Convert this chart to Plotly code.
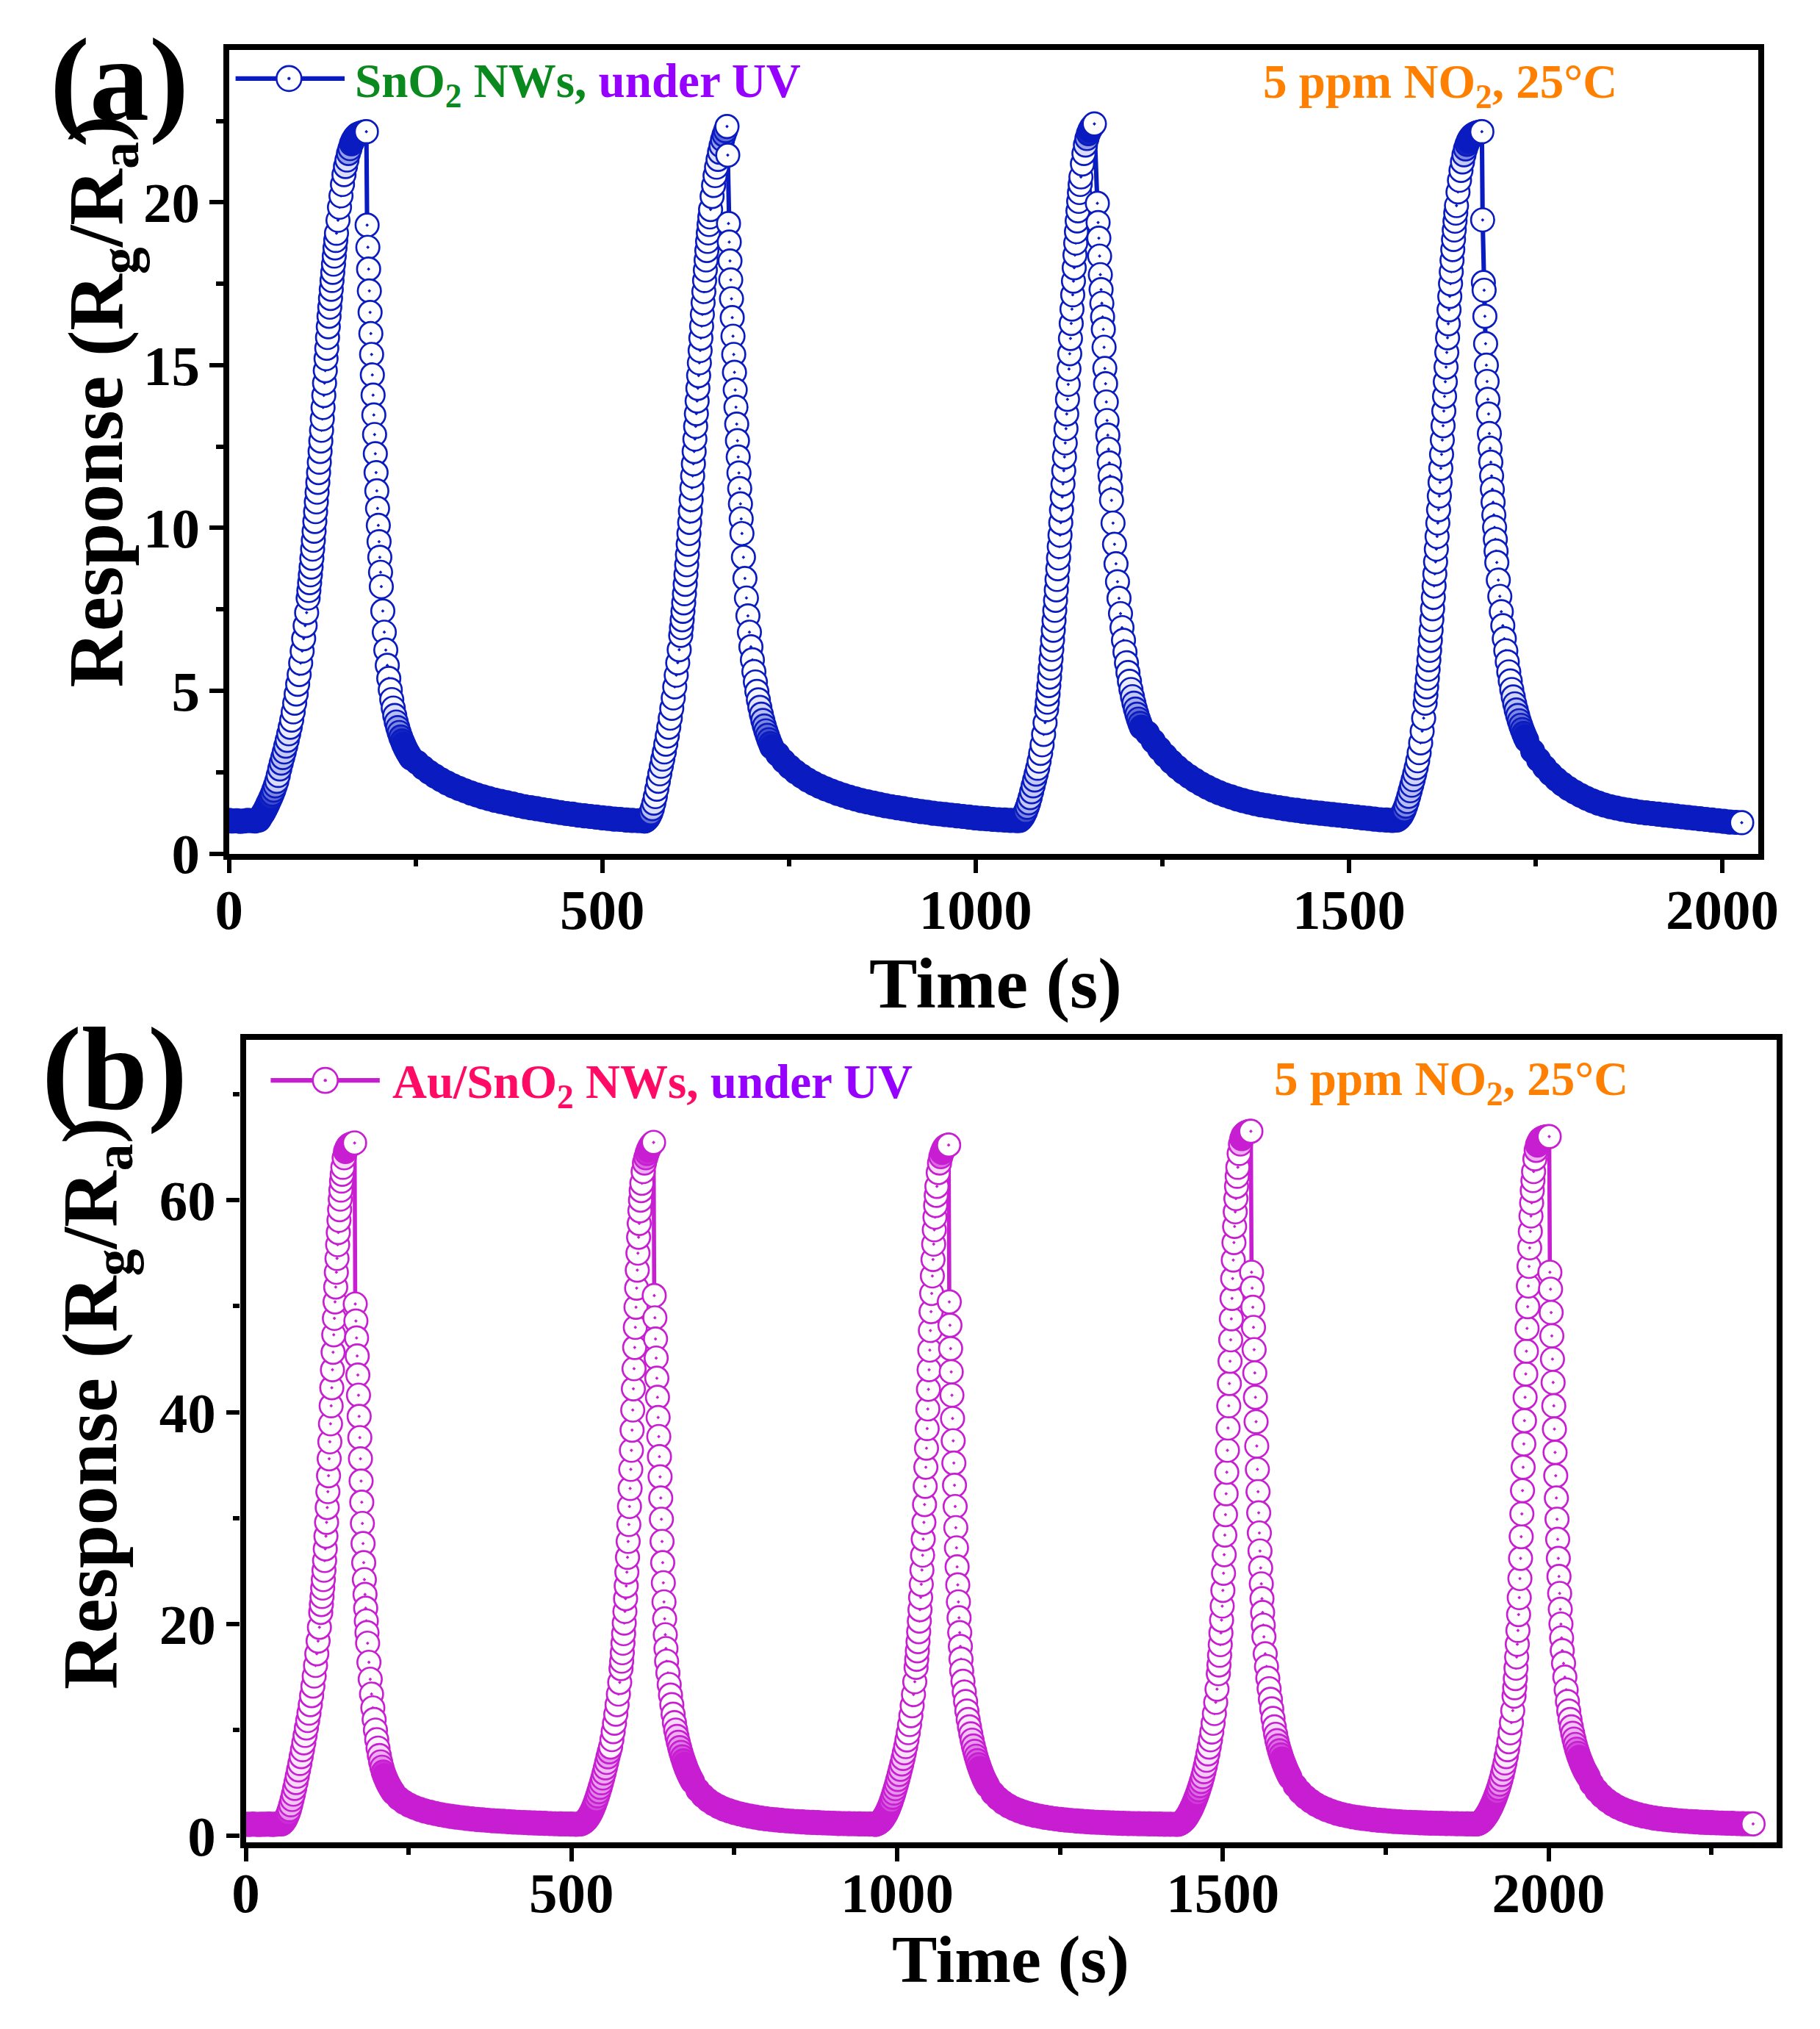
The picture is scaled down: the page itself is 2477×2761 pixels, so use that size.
import math
import plotly.graph_objects as go

FONT = "Liberation Serif"
BLUE = "#0A1CC0"
MAG = "#C81ED2"
GREEN = "#0A8A1E"
PURPLE = "#9600FF"
PINK = "#FF0A64"
ORANGE = "#FF8000"

# ---------------- Panel (a): SnO2 NWs, response vs time (s) ----------------
# each list = response values sampled from `start` every `step` seconds
A_BASE = [1.02, 1.00, 1.01, 0.99, 1.00, 1.02, 1.01, 1.00, 1.03]
A1_FOOT = [1.10, 1.18, 1.25, 1.33, 1.42, 1.52, 1.62, 1.72, 1.83, 1.95, 2.08, 2.22, 2.40, 2.60, 2.78, 2.95, 3.12,
           3.30, 3.48, 3.68, 3.88, 4.10, 4.35, 4.62, 4.90, 5.20, 5.50, 5.85, 6.22, 6.60, 7.00, 7.40, 7.85]
A1_STEEP = [8.08, 8.32, 8.56, 8.80, 9.07, 9.35, 9.62, 9.90, 10.20, 10.50, 10.80, 11.10, 11.40, 11.70, 12.02, 12.35,
            12.67, 13.00, 13.35, 13.70, 14.07, 14.45, 14.83, 15.20, 15.52, 15.85, 16.18, 16.50, 16.78, 17.05, 17.33,
            17.60, 17.85, 18.10, 18.35, 18.60, 18.83, 19.05]
A1_CAP = [19.45, 19.85, 20.20, 20.55, 20.85, 21.10, 21.30, 21.50, 21.65, 21.80, 21.90, 21.98, 22.04, 22.08, 22.10,
          22.12, 22.13, 22.15, 22.16, 22.17]
A1_DEC1 = [19.30, 18.62, 17.95, 17.28, 16.62, 15.97, 15.33, 14.70, 14.08, 13.47, 12.87, 12.28, 11.70, 11.14, 10.60,
           10.08, 9.58, 9.10, 8.64, 8.20]
A1_DEC2 = [7.45, 6.80, 6.25, 5.78, 5.38, 5.03, 4.73, 4.47, 4.24, 4.04, 3.87, 3.72, 3.58, 3.46, 3.35, 3.25, 3.16,
           3.08, 3.00, 2.93]
A1_TAIL = [2.80, 2.64, 2.50, 2.38, 2.27, 2.17, 2.08, 2.00, 1.93, 1.86, 1.80, 1.74, 1.69, 1.64, 1.60, 1.56, 1.52,
           1.48, 1.44, 1.41, 1.38, 1.35, 1.32, 1.29, 1.26, 1.23, 1.21, 1.18, 1.16, 1.14, 1.12, 1.10, 1.08, 1.06,
           1.05, 1.03, 1.02, 1.01, 1.00]
A2_FOOT = [1.00, 1.03, 1.08, 1.15, 1.25, 1.38, 1.55, 1.75, 1.98, 2.22, 2.45, 2.68, 2.90, 3.12, 3.36, 3.61, 3.88,
           4.16, 4.46, 4.78, 5.12, 5.48, 5.86, 6.26, 6.70]
A2_STEEP = [6.94, 7.18, 7.44, 7.70, 7.98, 8.27, 8.57, 8.87, 9.18, 9.50, 9.83, 10.17, 10.52, 10.87, 11.23, 11.60,
            11.97, 12.35, 12.73, 13.12, 13.51, 13.90, 14.29, 14.68, 15.07, 15.45, 15.83, 16.20, 16.56, 16.92, 17.26,
            17.60, 17.92, 18.23, 18.52, 18.80, 19.06, 19.32, 19.55, 19.78]
A2_CAP = [20.18, 20.52, 20.82, 21.08, 21.32, 21.54, 21.74, 21.92, 22.07, 22.20, 22.33]
A2_DEC1 = [21.45, 19.35, 18.78, 18.20, 17.62, 17.04, 16.46, 15.89, 15.33, 14.78, 14.24, 13.71, 13.19, 12.68, 12.18,
           11.69, 11.21, 10.74, 10.28, 9.83]
A2_DEC2 = [9.10, 8.45, 7.85, 7.30, 6.80, 6.35, 5.95, 5.59, 5.27, 4.98, 4.72, 4.49, 4.28, 4.09, 3.92, 3.77, 3.63,
           3.50, 3.38, 3.27]
A2_TAIL = [3.05, 2.84, 2.66, 2.51, 2.38, 2.26, 2.16, 2.07, 1.99, 1.92, 1.85, 1.79, 1.73, 1.68, 1.63, 1.59, 1.55,
           1.51, 1.47, 1.44, 1.41, 1.38, 1.35, 1.32, 1.29, 1.27, 1.24, 1.22, 1.20, 1.18, 1.16, 1.14, 1.12, 1.10,
           1.08, 1.07, 1.05, 1.04, 1.03, 1.02, 1.01]
A3_FOOT = [1.02, 1.06, 1.12, 1.20, 1.30, 1.42, 1.56, 1.72, 1.90, 2.08, 2.26, 2.44, 2.62, 2.84, 3.08, 3.34, 3.66,
           4.02, 4.42]
A3_STEEP = [4.65, 4.90, 5.16, 5.42, 5.70, 5.98, 6.27, 6.56, 6.86, 7.16, 7.47, 7.78, 8.10, 8.42, 8.75, 9.08, 9.43,
            9.78, 10.16, 10.55, 10.95, 11.35, 11.76, 12.18, 12.61, 13.05, 13.50, 13.95, 14.41, 14.88, 15.35, 15.82,
            16.28, 16.72, 17.16, 17.58, 17.99, 18.38, 18.75, 19.10, 19.43, 19.74, 20.03, 20.30, 20.55]
A3_CAP = [20.78, 21.18, 21.50, 21.76, 21.96, 22.11, 22.22, 22.30, 22.36, 22.41]
A3_DEC1 = [19.97, 19.38, 18.90, 18.35, 17.78, 17.32, 16.90, 16.48, 16.10, 15.55, 14.90, 14.43, 13.87, 13.30, 12.85,
           12.42, 12.00, 11.60, 11.22, 10.85]
A3_DEC2 = [10.15, 9.50, 8.90, 8.35, 7.84, 7.37, 6.94, 6.55, 6.19, 5.86, 5.56, 5.29, 5.04, 4.82, 4.62, 4.44, 4.28,
           4.13, 4.00, 3.88]
A3_TAIL = [3.70, 3.45, 3.22, 3.01, 2.82, 2.65, 2.50, 2.37, 2.25, 2.14, 2.04, 1.95, 1.87, 1.80, 1.74, 1.68, 1.63,
           1.58, 1.54, 1.50, 1.47, 1.44, 1.41, 1.38, 1.35, 1.33, 1.30, 1.28, 1.26, 1.24, 1.22, 1.20, 1.18, 1.16,
           1.14, 1.12, 1.10, 1.08, 1.06, 1.04, 1.03, 1.02]
A4_FOOT = [1.03, 1.06, 1.10, 1.16, 1.24, 1.34, 1.46, 1.60, 1.76, 1.93, 2.10, 2.27, 2.45, 2.64, 2.85, 3.10, 3.40,
           3.76, 4.16, 4.62]
A4_STEEP = [4.87, 5.12, 5.39, 5.66, 5.95, 6.24, 6.55, 6.86, 7.19, 7.52, 7.87, 8.22, 8.59, 8.96, 9.35, 9.74, 10.15,
            10.56, 10.98, 11.40, 11.83, 12.26, 12.70, 13.14, 13.59, 14.04, 14.49, 14.94, 15.39, 15.84, 16.27, 16.70,
            17.11, 17.50, 17.87, 18.22, 18.55, 18.86, 19.15, 19.42, 19.67, 19.90]
A4_CAP = [20.32, 20.68, 20.98, 21.24, 21.46, 21.64, 21.78, 21.89, 21.97, 22.03, 22.07, 22.10, 22.12, 22.14, 22.15,
          22.16, 22.17]
A4_DEC1 = [19.46, 17.54, 17.30, 16.50, 15.66, 15.00, 14.50, 13.95, 13.50, 12.90, 12.45, 12.02, 11.60, 11.19, 10.79,
           10.40, 10.02, 9.65, 9.29, 8.94]
A4_DEC2 = [8.40, 7.90, 7.43, 7.00, 6.60, 6.23, 5.89, 5.58, 5.30, 5.04, 4.81, 4.60, 4.41, 4.24, 4.08, 3.94, 3.81,
           3.69, 3.58, 3.48]
A4_TAIL = [3.15, 2.88, 2.65, 2.45, 2.28, 2.13, 2.00, 1.89, 1.79, 1.70, 1.62, 1.55, 1.49, 1.44, 1.40, 1.36, 1.33,
           1.30, 1.27, 1.25, 1.23, 1.21, 1.19, 1.17, 1.15, 1.13, 1.11, 1.09, 1.07, 1.05, 1.03, 1.01, 0.99, 0.97,
           0.96, 0.95]

# (start time s, sampling step s, values)
A_SEGMENTS = [
    (0, 5, A_BASE),
    (42, 2, A1_FOOT), (107, 1, A1_STEEP), (146, 2, A1_CAP),
    (185, 1, A1_DEC1), (206, 2, A1_DEC2), (252, 8, A1_TAIL),
    (557, 2, A2_FOOT), (606, 1, A2_STEEP), (647, 2, A2_CAP),
    (668, 1, A2_DEC1), (689, 2, A2_DEC2), (735, 8, A2_TAIL),
    (1059, 2, A3_FOOT), (1096, 1, A3_STEEP), (1141, 2, A3_CAP),
    (1163, 1, A3_DEC1), (1184, 2, A3_DEC2), (1230, 8, A3_TAIL),
    (1564, 2, A4_FOOT), (1603, 1, A4_STEEP), (1646, 2, A4_CAP),
    (1679, 1, A4_DEC1), (1700, 2, A4_DEC2), (1746, 8, A4_TAIL),
]

# ---------------- Panel (b): Au/SnO2 NWs ----------------
B_BASE = [1.12, 1.10, 1.13, 1.11, 1.10, 1.12, 1.11, 1.13, 1.10, 1.12, 1.14]
B1_FOOT = [1.15, 1.25, 1.40, 1.60, 1.85, 2.15, 2.50, 2.95, 3.45, 3.95, 4.50, 5.05, 5.65, 6.25, 6.85, 7.50, 8.15,
           8.80, 9.50, 10.20, 10.90, 11.60, 12.40, 13.25, 14.15, 15.10, 16.10, 17.20, 18.40, 19.70, 21.10]
B1_STEEP = [21.85, 22.60, 23.40, 24.20, 25.08, 26.00, 27.10, 28.30, 29.60, 31.00, 32.50, 34.00, 35.60, 37.20, 38.90,
            40.60, 42.30, 44.00, 45.65, 47.30, 48.85, 50.40, 51.80, 53.20, 54.50, 55.80, 56.95, 58.10, 59.10, 60.10,
            60.95, 61.80, 62.45]
B1_CAP = [63.10, 64.00, 64.60, 64.90, 65.10, 65.20, 65.25, 65.30, 65.35, 65.40]
B1_DEC1 = [50.2, 48.6, 47.0, 45.3, 43.5, 41.6, 39.6, 37.6, 35.6, 33.5, 31.5, 29.5, 27.6, 25.8, 24.2, 22.8, 21.5,
           20.3, 19.2, 18.2]
B1_DEC2 = [16.4, 14.8, 13.4, 12.1, 11.0, 10.0, 9.1, 8.3, 7.6, 7.0, 6.5, 6.05, 5.7, 5.4, 5.12, 4.87, 4.64, 4.43,
           4.24, 4.06]
B1_TAIL = [3.55, 3.20, 2.92, 2.70, 2.52, 2.37, 2.24, 2.13, 2.03, 1.94, 1.86, 1.79, 1.73, 1.67, 1.62, 1.57, 1.53,
           1.49, 1.45, 1.42, 1.39, 1.36, 1.33, 1.30, 1.28, 1.26, 1.24, 1.22, 1.20, 1.18, 1.16, 1.15, 1.14, 1.13,
           1.12]
B2_FOOT = [1.15, 1.20, 1.27, 1.36, 1.48, 1.62, 1.79, 1.99, 2.22, 2.48, 2.77, 3.09, 3.43, 3.80, 4.19, 4.60, 5.03,
           5.48, 5.95, 6.44, 6.95, 7.48, 7.95, 8.40, 9.10, 9.85, 10.65, 11.50, 12.40, 13.40, 14.50, 15.80]
B2_STEEP = [16.5, 17.3, 18.2, 19.1, 20.1, 21.2, 22.4, 23.6, 24.9, 26.3, 27.8, 29.4, 31.1, 32.8, 34.6, 36.4, 38.3,
            40.2, 42.2, 44.1, 46.1, 48.0, 49.9, 51.7, 53.4, 55.0, 56.5, 57.8, 59.0, 60.0, 60.9, 61.6]
B2_CAP = [62.7, 63.5, 64.0, 64.4, 64.75, 65.0, 65.2, 65.35, 65.45]
B2_DEC1 = [51.0, 48.9, 46.9, 45.1, 43.2, 41.4, 39.5, 37.7, 35.8, 33.9, 31.9, 29.9, 27.8, 25.8, 23.9, 22.1, 20.5,
           19.0, 17.7, 16.5]
B2_DEC2 = [15.4, 14.3, 13.3, 12.4, 11.5, 10.7, 10.0, 9.4, 8.85, 8.35, 7.90, 7.48, 7.10, 6.75, 6.42, 6.12, 5.84,
           5.58, 5.34, 5.12]
B2_TAIL = [4.35, 3.80, 3.38, 3.05, 2.78, 2.56, 2.38, 2.23, 2.10, 1.98, 1.88, 1.79, 1.71, 1.64, 1.58, 1.53, 1.48,
           1.44, 1.40, 1.37, 1.34, 1.31, 1.29, 1.27, 1.25, 1.23, 1.21, 1.19, 1.18, 1.17, 1.16, 1.15, 1.14, 1.13,
           1.12]
B3_FOOT = [1.12, 1.16, 1.22, 1.30, 1.41, 1.55, 1.71, 1.90, 2.12, 2.37, 2.65, 2.96, 3.30, 3.67, 4.06, 4.47, 4.90,
           5.35, 5.82, 6.30, 6.80, 7.32, 7.86, 8.44, 9.07, 9.76, 10.52, 11.36, 12.30, 13.36, 14.56, 15.92]
B3_STEEP = [16.68, 17.48, 18.35, 19.28, 20.29, 21.36, 22.52, 23.76, 25.10, 26.50, 28.02, 29.60, 31.28, 33.00, 34.80,
            36.60, 38.45, 40.30, 42.15, 44.00, 45.85, 47.70, 49.48, 51.20, 52.85, 54.40, 55.85, 57.20, 58.40, 59.50,
            60.45, 61.30]
B3_CAP = [62.60, 63.50, 64.10, 64.50, 64.80, 65.00, 65.10, 65.15, 65.20]
B3_DEC1 = [50.4, 48.2, 46.0, 43.8, 41.6, 39.4, 37.3, 35.2, 33.1, 31.1, 29.1, 27.2, 25.4, 23.7, 22.1, 20.6, 19.2,
           17.9, 16.7, 15.6]
B3_DEC2 = [14.6, 13.6, 12.7, 11.8, 11.0, 10.3, 9.65, 9.05, 8.50, 8.00, 7.54, 7.12, 6.73, 6.37, 6.04, 5.73, 5.45,
           5.19, 4.95, 4.73]
B3_TAIL = [4.05, 3.55, 3.16, 2.85, 2.60, 2.40, 2.23, 2.09, 1.97, 1.87, 1.78, 1.70, 1.63, 1.57, 1.52, 1.47, 1.43,
           1.39, 1.36, 1.33, 1.30, 1.28, 1.26, 1.24, 1.22, 1.20, 1.19, 1.18, 1.17, 1.16, 1.15, 1.14, 1.13, 1.12,
           1.12, 1.11]
B4_FOOT = [1.12, 1.16, 1.22, 1.30, 1.40, 1.53, 1.68, 1.86, 2.06, 2.28, 2.52, 2.78, 3.06, 3.36, 3.68, 4.02, 4.38,
           4.76, 5.16, 5.60, 6.08, 6.60, 7.16, 7.76, 8.40, 9.08, 9.82, 10.64, 11.56, 12.62, 13.86, 15.32]
B4_STEEP = [16.15, 17.06, 18.06, 19.16, 20.38, 21.70, 23.18, 24.80, 26.55, 28.40, 30.33, 32.30, 34.33, 36.40, 38.50,
            40.60, 42.70, 44.80, 46.82, 48.80, 50.73, 52.60, 54.35, 56.00, 57.52, 58.90, 60.15, 61.30, 62.25, 63.10]
B4_CAP = [64.40, 65.30, 65.80, 66.10, 66.25, 66.35, 66.40, 66.45, 66.48, 66.50]
B4_DEC1 = [53.2, 51.7, 49.9, 48.0, 45.9, 43.7, 41.4, 39.1, 36.8, 34.6, 32.5, 30.5, 28.6, 26.9, 25.3, 23.8, 22.4,
           21.1, 19.9, 18.8]
B4_DEC2 = [17.2, 16.0, 14.9, 13.9, 12.9, 12.0, 11.1, 10.3, 9.6, 9.0, 8.5, 8.05, 7.65, 7.28, 6.94, 6.62, 6.32,
           6.04, 5.78, 5.54]
B4_TAIL = [4.75, 4.15, 3.68, 3.30, 2.98, 2.72, 2.50, 2.32, 2.16, 2.03, 1.92, 1.82, 1.74, 1.67, 1.61, 1.55, 1.50,
           1.46, 1.42, 1.38, 1.35, 1.32, 1.30, 1.28, 1.26, 1.24, 1.22, 1.21, 1.20, 1.19, 1.18, 1.17, 1.16, 1.15,
           1.14]
B5_FOOT = [1.14, 1.17, 1.22, 1.29, 1.38, 1.50, 1.64, 1.80, 1.98, 2.18, 2.40, 2.64, 2.90, 3.18, 3.48, 3.80, 4.14,
           4.50, 4.90, 5.34, 5.82, 6.34, 6.90, 7.50, 8.16, 8.90, 9.74, 10.70, 11.84, 13.20]
B5_STEEP = [14.00, 14.86, 15.84, 16.90, 18.10, 19.40, 20.90, 22.50, 24.30, 26.20, 28.25, 30.40, 32.60, 34.80, 37.00,
            39.20, 41.40, 43.60, 45.75, 47.90, 49.95, 51.90, 53.75, 55.50, 57.05, 58.50, 59.75, 60.90, 61.85, 62.70]
B5_CAP = [63.90, 64.70, 65.20, 65.50, 65.70, 65.80, 65.87, 65.92, 65.95, 65.97, 65.99, 66.00]
B5_DEC1 = [53.2, 51.6, 49.4, 47.2, 45.0, 42.8, 40.6, 38.4, 36.2, 34.0, 31.9, 29.9, 28.0, 26.2, 24.5, 22.9, 21.4,
           20.0, 18.7, 17.5]
B5_DEC2 = [16.3, 15.0, 13.8, 12.7, 11.8, 11.0, 10.3, 9.7, 9.15, 8.65, 8.20, 7.80, 7.43, 7.10, 6.80, 6.52, 6.26,
           6.02, 5.80, 5.59]
B5_TAIL = [4.95, 4.30, 3.78, 3.36, 3.02, 2.74, 2.51, 2.32, 2.16, 2.02, 1.90, 1.80, 1.71, 1.64, 1.58, 1.53, 1.48,
           1.44, 1.40, 1.37, 1.34, 1.31, 1.29, 1.27, 1.25, 1.23, 1.21, 1.20, 1.18, 1.17, 1.16, 1.15]

B_SEGMENTS = [
    (0, 5, B_BASE),
    (55, 2, B1_FOOT), (116, 1, B1_STEEP), (149, 2, B1_CAP),
    (168, 1, B1_DEC1), (189, 2, B1_DEC2), (235, 8, B1_TAIL),
    (514, 2, B2_FOOT), (577, 1, B2_STEEP), (610, 2, B2_CAP),
    (627, 1, B2_DEC1), (648, 2, B2_DEC2), (694, 8, B2_TAIL),
    (967, 2, B3_FOOT), (1030, 1, B3_STEEP), (1063, 2, B3_CAP),
    (1080, 1, B3_DEC1), (1101, 2, B3_DEC2), (1147, 8, B3_TAIL),
    (1431, 2, B4_FOOT), (1494, 1, B4_STEEP), (1525, 2, B4_CAP),
    (1544, 1, B4_DEC1), (1565, 2, B4_DEC2), (1611, 8, B4_TAIL),
    (1889, 2, B5_FOOT), (1948, 1, B5_STEEP), (1979, 2, B5_CAP),
    (2002, 1, B5_DEC1), (2023, 2, B5_DEC2), (2066, 8, B5_TAIL),
]

X_TICKS_A = [0, 500, 1000, 1500, 2000]
Y_TICKS_A = [0, 5, 10, 15, 20]
X_TICKS_B = [0, 500, 1000, 1500, 2000]
Y_TICKS_B = [0, 20, 40, 60]
X_RANGE_A, Y_RANGE_A = [0, 2048.1], [0, 24.67]
X_RANGE_B, Y_RANGE_B = [0, 2350.2], [-0.58, 75.11]

# ---------------- layout geometry ----------------
W, H = 2477, 2761
# the photographed page comes out uniformly shrunk (about 0.985, centred horizontally);
# positions below are wanted positions in the photo, mapped back to figure pixels
S, CX, CY = 0.9853, 1238.5, 1.0


def FX(x):
    return (x - CX) / S + CX


def FY(y):
    return (y - CY) / S


BOX_A = (FX(312), FX(2401.5), FY(69.5), FY(1164))   # left, right, top, bottom (figure px)
BOX_B = (FX(335), FX(2426.7), FY(1418), FY(2511))
STROKE = 2.65


def mix(col, f):
    r, g, b = int(col[1:3], 16), int(col[3:5], 16), int(col[5:7], 16)
    f = max(0.0, min(1.0, f))
    return "#%02x%02x%02x" % tuple(round(255 + (c - 255) * f) for c in (r, g, b))


def build(segments, col, box, xr, yr):
    """Collect the points; marker fill is tinted where the coarser sampling would
    otherwise leave gaps that the densely overlapping rings of the record fill in."""
    sx = (box[1] - box[0]) / (xr[1] - xr[0])
    sy = (box[3] - box[2]) / (yr[1] - yr[0])
    xs, ys = [], []
    for t0, dt, vals in segments:
        for i, v in enumerate(vals):
            xs.append(t0 + dt * i)
            ys.append(v)
    fills = []
    for i in range(len(xs)):
        if i == len(xs) - 1:
            fills.append("#ffffff")
            continue
        dt = xs[i + 1] - xs[i]
        s = math.hypot((xs[i + 1] - xs[i]) * sx, (ys[i + 1] - ys[i]) * sy)
        if s / dt <= STROKE or s <= STROKE:
            f = 1.0
        else:
            f = STROKE * (dt - 1) / (s - STROKE)
        fills.append(mix(col, (f - 0.3) / 0.7))
    return xs, ys, fills


xa, ya, fa = build(A_SEGMENTS, BLUE, BOX_A, X_RANGE_A, Y_RANGE_A)
xb, yb, fb = build(B_SEGMENTS, MAG, BOX_B, X_RANGE_B, Y_RANGE_B)

fig = go.Figure()
fig.add_trace(go.Scatter(
    x=xa, y=ya, mode="lines+markers", xaxis="x", yaxis="y",
    line=dict(color=BLUE, width=6.1),
    marker=dict(symbol="circle-dot", size=31.5, color=fa, line=dict(color=BLUE, width=STROKE)),
    showlegend=False, hoverinfo="skip"))
fig.add_trace(go.Scatter(
    x=xb, y=yb, mode="lines+markers", xaxis="x2", yaxis="y2",
    line=dict(color=MAG, width=5.6),
    marker=dict(symbol="circle-dot", size=31.5, color=fb, line=dict(color=MAG, width=STROKE)),
    showlegend=False, hoverinfo="skip"))

tickfont = dict(family=FONT, size=77, color="black", weight="bold")


def axis(domain, anchor, rng, ticks, minor, standoff):
    return dict(domain=domain, anchor=anchor, range=rng, tickmode="array", tickvals=ticks,
                ticks="outside", ticklen=18.3, tickwidth=6.1, tickcolor="black",
                minor=dict(ticks="outside", ticklen=9.2, tickwidth=6.1, tickcolor="black", dtick=minor, tick0=0),
                showline=True, linewidth=8.1, linecolor="black", mirror=True,
                showgrid=False, zeroline=False, tickfont=tickfont, ticklabelstandoff=standoff)


fig.update_layout(
    width=W, height=H, margin=dict(l=0, r=0, t=0, b=0),
    paper_bgcolor="white", plot_bgcolor="white", showlegend=False,
    xaxis=axis([BOX_A[0] / W, BOX_A[1] / W], "y", X_RANGE_A, X_TICKS_A, 250, -16),
    yaxis=axis([1 - BOX_A[3] / H, 1 - BOX_A[2] / H], "x", Y_RANGE_A, Y_TICKS_A, 2.5, -2),
    xaxis2=axis([BOX_B[0] / W, BOX_B[1] / W], "y2", X_RANGE_B, X_TICKS_B, 250, -24),
    yaxis2=axis([1 - BOX_B[3] / H, 1 - BOX_B[2] / H], "x2", Y_RANGE_B, Y_TICKS_B, 10, -1),
)


def ann(text, x, y, size, color="black", xanchor="center", angle=0):
    # x, y: wanted centre (or left edge) of the text box in the photo
    xf = FX(x) - (1.6 if xanchor == "left" else 0)
    yf = FY(y) + 1.5
    fig.add_annotation(text=text, x=xf / W, y=1 - yf / H, xref="paper", yref="paper", showarrow=False,
                       xanchor=xanchor, yanchor="middle", textangle=angle,
                       font=dict(family=FONT, size=size, color=color, weight="bold"))


ann("(a)", 162.6, 108.5, 162)
ann("(b)", 155.5, 1455.5, 162)
ann("Time (s)", 1359, 1339, 98)
ann("Time (s)", 1380, 2669.2, 92)
ann("Response (R<sub>g</sub>/R<sub>a</sub>)", 137.5, 547, 106, angle=-90)
ann("Response (R<sub>g</sub>/R<sub>a</sub>)", 129.5, 1912, 106, angle=-90)
ann('<span style="color:%s">SnO<sub>2</sub> NWs, </span><span style="color:%s">under UV</span>' % (GREEN, PURPLE),
    484, 115, 65, xanchor="left")
ann('<span style="color:%s">Au/SnO<sub>2</sub> NWs, </span><span style="color:%s">under UV</span>' % (PINK, PURPLE),
    535, 1478.5, 65, xanchor="left")
ann("5 ppm NO<sub>2</sub>, 25°C", 1966.5, 116, 65, color=ORANGE)
ann("5 ppm NO<sub>2</sub>, 25°C", 1982, 1474, 65, color=ORANGE)


def legend_glyph(x0, x1, xc, y, col):
    X0, X1, XC, Y = FX(x0), FX(x1), FX(xc), FY(y)
    fig.add_shape(type="line", xref="paper", yref="paper", x0=X0 / W, x1=X1 / W, y0=1 - Y / H, y1=1 - Y / H,
                  line=dict(color=col, width=6.1))
    r = 17.3
    fig.add_shape(type="circle", xref="paper", yref="paper", x0=(XC - r) / W, x1=(XC + r) / W,
                  y0=1 - (Y + r) / H, y1=1 - (Y - r) / H, fillcolor="white", line=dict(color=col, width=STROKE))
    d = 2
    fig.add_shape(type="circle", xref="paper", yref="paper", x0=(XC - d) / W, x1=(XC + d) / W,
                  y0=1 - (Y + d) / H, y1=1 - (Y - d) / H, fillcolor=col, line=dict(color=col, width=0.5))


legend_glyph(321, 470, 394, 108, BLUE)
legend_glyph(369, 518, 443.6, 1473, MAG)

fig.write_html("out.html", config={"displayModeBar": False},
               post_script="document.body.style.margin='0';document.body.style.overflow='hidden';")
